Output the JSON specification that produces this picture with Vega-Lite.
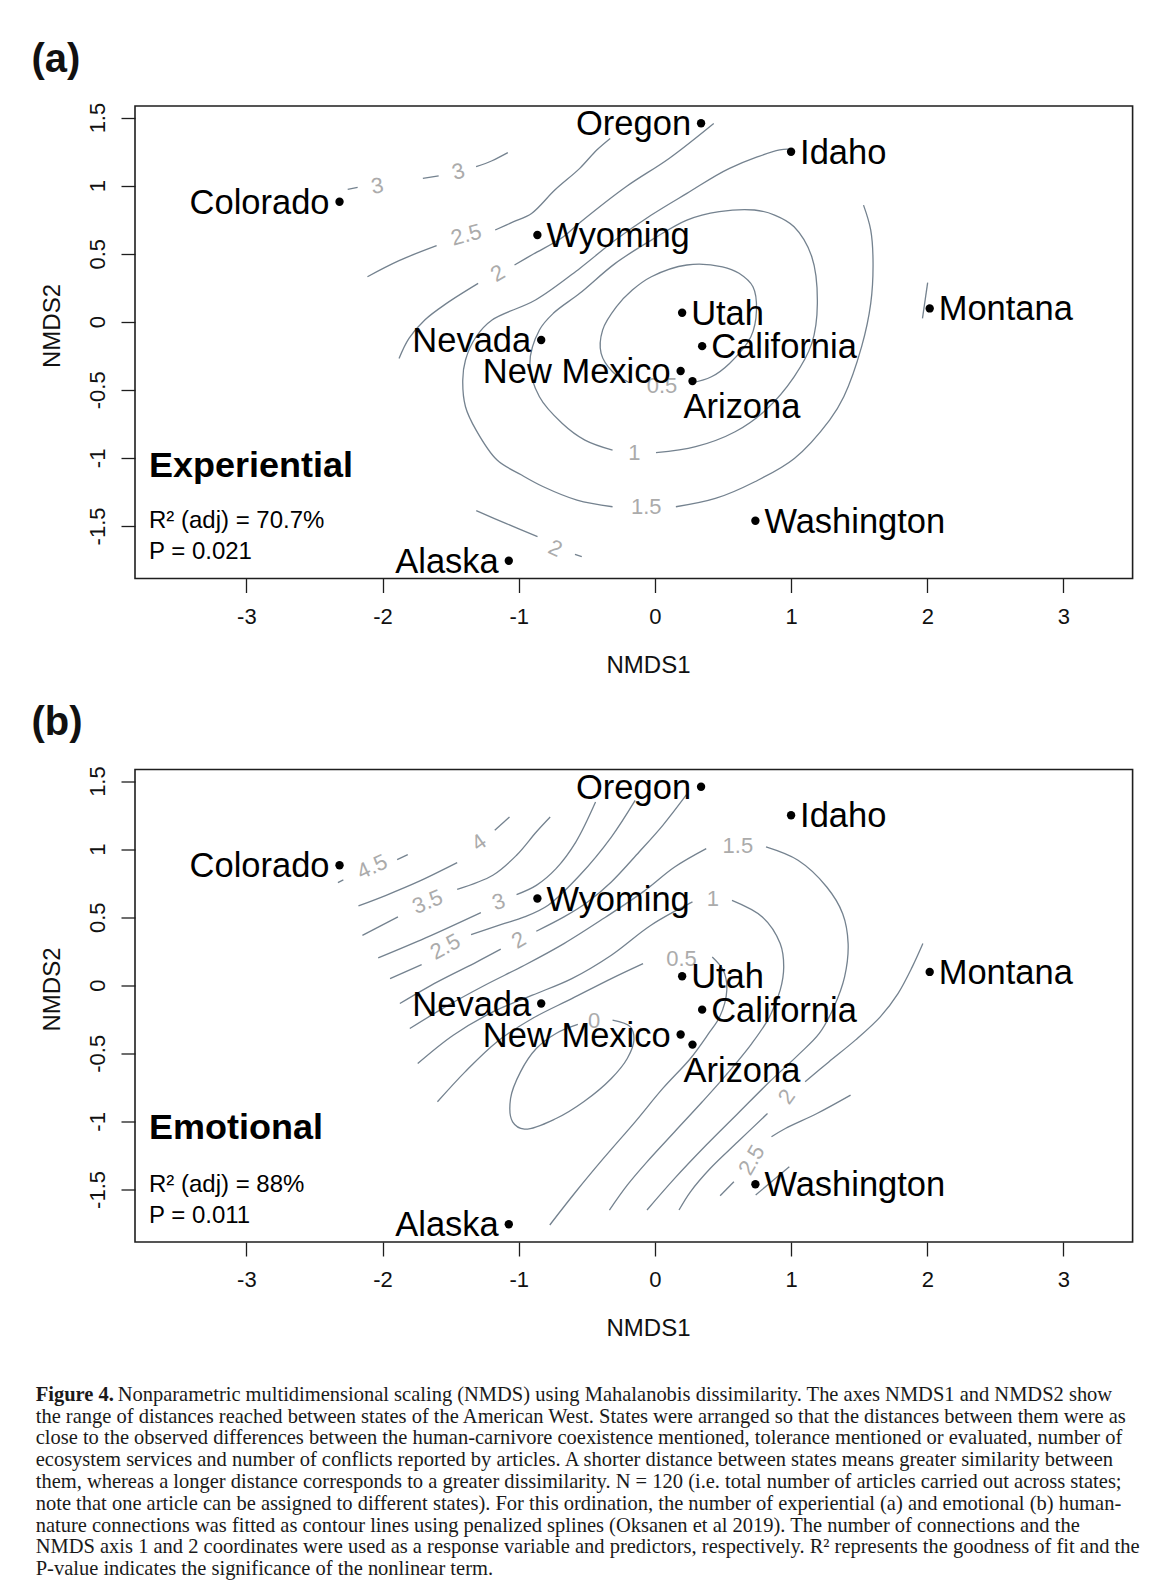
{
  "$schema": "https://vega.github.io/schema/vega-lite/v6.json",
  "background": "white",
  "padding": {"left": 30, "top": 38, "right": 5, "bottom": 5},
  "spacing": 22.5,
  "config": {
    "font": "Liberation Sans",
    "view": {"stroke": "#1e1e1e", "strokeWidth": 1.6},
    "axis": {
      "grid": false, "domain": false, "ticks": true, "tickSize": 14, "tickWidth": 1.3, "tickColor": "#1e1e1e",
      "labelFont": "Liberation Sans", "labelFontSize": 22, "labelColor": "#111111",
      "titleFont": "Liberation Sans", "titleFontSize": 24, "titleFontWeight": "normal", "titleColor": "#111111"
    }
  },
  "title": {
    "text": "Figure 4.",
    "subtitle": [
      "\u200b\u00a0\u00a0\u00a0\u00a0\u00a0\u00a0\u00a0\u00a0\u00a0\u00a0\u00a0\u00a0\u00a0\u00a0\u00a0\u00a0Nonparametric multidimensional scaling (NMDS) using Mahalanobis dissimilarity. The axes NMDS1 and NMDS2 show",
      "the range of distances reached between states of the American West. States were arranged so that the distances between them were as",
      "close to the observed differences between the human-carnivore coexistence mentioned, tolerance mentioned or evaluated, number of",
      "ecosystem services and number of conflicts reported by articles. A shorter distance between states means greater similarity between",
      "them, whereas a longer distance corresponds to a greater dissimilarity. N = 120 (i.e. total number of articles carried out across states;",
      "note that one article can be assigned to different states). For this ordination, the number of experiential (a) and emotional (b) human-",
      "nature connections was fitted as contour lines using penalized splines (Oksanen et al 2019). The number of connections and the",
      "NMDS axis 1 and 2 coordinates were used as a response variable and predictors, respectively. R² represents the goodness of fit and the",
      "P-value indicates the significance of the nonlinear term."
    ],
    "orient": "bottom", "anchor": "start", "frame": "bounds", "align": "left",
    "font": "Liberation Serif", "fontSize": 20.5, "fontWeight": "bold", "color": "#1a1a1a",
    "subtitleFont": "Liberation Serif", "subtitleFontSize": 20.5, "subtitleFontWeight": "normal", "subtitleColor": "#1a1a1a",
    "subtitleLineHeight": 21.8, "subtitlePadding": -20.5, "offset": 43, "dx": 5
  },
  "datasets": {
    "states": [
      {"state": "Colorado", "x": -2.316, "y": 0.882, "pos": "left"},
      {"state": "Oregon", "x": 0.339, "y": 1.458, "pos": "left"},
      {"state": "Idaho", "x": 1.0, "y": 1.249, "pos": "right"},
      {"state": "Wyoming", "x": -0.863, "y": 0.637, "pos": "right"},
      {"state": "Montana", "x": 2.018, "y": 0.098, "pos": "right"},
      {"state": "Utah", "x": 0.2, "y": 0.066, "pos": "right"},
      {"state": "California", "x": 0.347, "y": -0.179, "pos": "right"},
      {"state": "Nevada", "x": -0.835, "y": -0.134, "pos": "left"},
      {"state": "New Mexico", "x": 0.189, "y": -0.362, "pos": "left"},
      {"state": "Arizona", "x": 0.276, "y": -0.436, "pos": "below"},
      {"state": "Washington", "x": 0.738, "y": -1.462, "pos": "right"},
      {"state": "Alaska", "x": -1.073, "y": -1.756, "pos": "left"}
    ],
    "notes_a": [
      {"kind": "heading", "text": "Experiential", "x": -3.715, "y": -1.139},
      {"kind": "stat", "text": "R² (adj) = 70.7%", "x": -3.715, "y": -1.518},
      {"kind": "stat", "text": "P = 0.021", "x": -3.715, "y": -1.746}
    ],
    "notes_b": [
      {"kind": "heading", "text": "Emotional", "x": -3.715, "y": -1.126},
      {"kind": "stat", "text": "R² (adj) = 88%", "x": -3.715, "y": -1.518},
      {"kind": "stat", "text": "P = 0.011", "x": -3.715, "y": -1.745}
    ],
    "clab_a": [
      {"level": "3", "x": -2.038, "y": 0.997, "angle": -10},
      {"level": "3", "x": -1.443, "y": 1.102, "angle": -15},
      {"level": "2.5", "x": -1.385, "y": 0.637, "angle": -15},
      {"level": "2", "x": -1.153, "y": 0.355, "angle": -30},
      {"level": "2", "x": -0.732, "y": -1.665, "angle": 25},
      {"level": "1.5", "x": -0.064, "y": -1.359, "angle": 0},
      {"level": "1", "x": -0.151, "y": -0.967, "angle": 0},
      {"level": "0.5", "x": 0.052, "y": -0.472, "angle": 0}
    ],
    "clab_b": [
      {"level": "4.5", "x": -2.076, "y": 0.869, "angle": -25},
      {"level": "4", "x": -1.292, "y": 1.048, "angle": -35},
      {"level": "3.5", "x": -1.669, "y": 0.612, "angle": -22},
      {"level": "3", "x": -1.147, "y": 0.612, "angle": -18},
      {"level": "2.5", "x": -1.539, "y": 0.282, "angle": -28},
      {"level": "2", "x": -0.999, "y": 0.331, "angle": -30},
      {"level": "1.5", "x": 0.609, "y": 1.023, "angle": 0},
      {"level": "1", "x": 0.426, "y": 0.637, "angle": 0},
      {"level": "0.5", "x": 0.195, "y": 0.19, "angle": 0},
      {"level": "0", "x": -0.447, "y": -0.264, "angle": 0},
      {"level": "2", "x": 0.969, "y": -0.819, "angle": -55},
      {"level": "2.5", "x": 0.711, "y": -1.284, "angle": -60}
    ],
    "cont_a": [
      {"s": "a3-1", "i": 0, "x": -2.256, "y": 0.973}, {"s": "a3-1", "i": 1, "x": -2.183, "y": 0.987},
      {"s": "a3-2", "i": 0, "x": -1.704, "y": 1.053}, {"s": "a3-2", "i": 1, "x": -1.588, "y": 1.071},
      {"s": "a3-3", "i": 0, "x": -1.313, "y": 1.139}, {"s": "a3-3", "i": 1, "x": -1.196, "y": 1.183}, {"s": "a3-3", "i": 2, "x": -1.08, "y": 1.242},
      {"s": "a25-1", "i": 0, "x": -2.111, "y": 0.331}, {"s": "a25-1", "i": 1, "x": -1.879, "y": 0.449}, {"s": "a25-1", "i": 2, "x": -1.603, "y": 0.559},
      {"s": "a25-2", "i": 0, "x": -1.173, "y": 0.674}, {"s": "a25-2", "i": 1, "x": -1.037, "y": 0.735}, {"s": "a25-2", "i": 2, "x": -0.906, "y": 0.796}, {"s": "a25-2", "i": 3, "x": -0.735, "y": 0.968}, {"s": "a25-2", "i": 4, "x": -0.552, "y": 1.127}, {"s": "a25-2", "i": 5, "x": -0.427, "y": 1.262}, {"s": "a25-2", "i": 6, "x": -0.328, "y": 1.347},
      {"s": "a2-1", "i": 0, "x": -1.879, "y": -0.269}, {"s": "a2-1", "i": 1, "x": -1.806, "y": -0.122}, {"s": "a2-1", "i": 2, "x": -1.69, "y": 0.013}, {"s": "a2-1", "i": 3, "x": -1.53, "y": 0.135}, {"s": "a2-1", "i": 4, "x": -1.298, "y": 0.282},
      {"s": "a2-2", "i": 0, "x": -1.031, "y": 0.417}, {"s": "a2-2", "i": 1, "x": -0.892, "y": 0.498}, {"s": "a2-2", "i": 2, "x": -0.688, "y": 0.613}, {"s": "a2-2", "i": 3, "x": -0.552, "y": 0.728}, {"s": "a2-2", "i": 4, "x": -0.212, "y": 0.992}, {"s": "a2-2", "i": 5, "x": 0.104, "y": 1.2}, {"s": "a2-2", "i": 6, "x": 0.432, "y": 1.457},
      {"s": "a2-3", "i": 0, "x": -1.312, "y": -1.388}, {"s": "a2-3", "i": 1, "x": -1.095, "y": -1.481}, {"s": "a2-3", "i": 2, "x": -0.862, "y": -1.579},
      {"s": "a2-4", "i": 0, "x": -0.587, "y": -1.709}, {"s": "a2-4", "i": 1, "x": -0.537, "y": -1.726},
      {"s": "a2-5", "i": 0, "x": 2.003, "y": 0.287}, {"s": "a2-5", "i": 1, "x": 1.965, "y": 0.025},
      {"s": "a15-1", "i": 0, "x": 0.995, "y": 1.267}, {"s": "a15-1", "i": 1, "x": 0.917, "y": 1.262}, {"s": "a15-1", "i": 2, "x": 0.548, "y": 1.127}, {"s": "a15-1", "i": 3, "x": 0.235, "y": 0.943}, {"s": "a15-1", "i": 4, "x": -0.026, "y": 0.784}, {"s": "a15-1", "i": 5, "x": -0.291, "y": 0.6}, {"s": "a15-1", "i": 6, "x": -0.552, "y": 0.392}, {"s": "a15-1", "i": 7, "x": -0.877, "y": 0.16}, {"s": "a15-1", "i": 8, "x": -1.196, "y": 0.013}, {"s": "a15-1", "i": 9, "x": -1.313, "y": -0.11}, {"s": "a15-1", "i": 10, "x": -1.391, "y": -0.281}, {"s": "a15-1", "i": 11, "x": -1.411, "y": -0.428}, {"s": "a15-1", "i": 12, "x": -1.391, "y": -0.624}, {"s": "a15-1", "i": 13, "x": -1.313, "y": -0.796}, {"s": "a15-1", "i": 14, "x": -1.159, "y": -1.016}, {"s": "a15-1", "i": 15, "x": -0.979, "y": -1.126}, {"s": "a15-1", "i": 16, "x": -0.819, "y": -1.212}, {"s": "a15-1", "i": 17, "x": -0.572, "y": -1.31}, {"s": "a15-1", "i": 18, "x": -0.311, "y": -1.359},
      {"s": "a15-2", "i": 0, "x": 0.154, "y": -1.359}, {"s": "a15-2", "i": 1, "x": 0.444, "y": -1.298}, {"s": "a15-2", "i": 2, "x": 0.734, "y": -1.175}, {"s": "a15-2", "i": 3, "x": 1.024, "y": -1.004}, {"s": "a15-2", "i": 4, "x": 1.283, "y": -0.722}, {"s": "a15-2", "i": 5, "x": 1.387, "y": -0.551}, {"s": "a15-2", "i": 6, "x": 1.518, "y": -0.183}, {"s": "a15-2", "i": 7, "x": 1.585, "y": 0.135}, {"s": "a15-2", "i": 8, "x": 1.602, "y": 0.429}, {"s": "a15-2", "i": 9, "x": 1.585, "y": 0.674}, {"s": "a15-2", "i": 10, "x": 1.532, "y": 0.857},
      {"s": "a1", "i": 0, "x": 0.008, "y": -0.962}, {"s": "a1", "i": 1, "x": 0.299, "y": -0.918}, {"s": "a1", "i": 2, "x": 0.589, "y": -0.808}, {"s": "a1", "i": 3, "x": 0.813, "y": -0.649}, {"s": "a1", "i": 4, "x": 1.022, "y": -0.404}, {"s": "a1", "i": 5, "x": 1.152, "y": -0.159}, {"s": "a1", "i": 6, "x": 1.193, "y": 0.135}, {"s": "a1", "i": 7, "x": 1.152, "y": 0.478}, {"s": "a1", "i": 8, "x": 1.022, "y": 0.698}, {"s": "a1", "i": 9, "x": 0.879, "y": 0.784}, {"s": "a1", "i": 10, "x": 0.731, "y": 0.821}, {"s": "a1", "i": 11, "x": 0.473, "y": 0.809}, {"s": "a1", "i": 12, "x": 0.235, "y": 0.747}, {"s": "a1", "i": 13, "x": -0.026, "y": 0.6}, {"s": "a1", "i": 14, "x": -0.291, "y": 0.429}, {"s": "a1", "i": 15, "x": -0.552, "y": 0.209}, {"s": "a1", "i": 16, "x": -0.746, "y": 0.062}, {"s": "a1", "i": 17, "x": -0.848, "y": -0.061}, {"s": "a1", "i": 18, "x": -0.918, "y": -0.306}, {"s": "a1", "i": 19, "x": -0.848, "y": -0.551}, {"s": "a1", "i": 20, "x": -0.68, "y": -0.747}, {"s": "a1", "i": 21, "x": -0.514, "y": -0.869}, {"s": "a1", "i": 22, "x": -0.311, "y": -0.943},
      {"s": "a05", "i": 0, "x": 0.255, "y": -0.453}, {"s": "a05", "i": 1, "x": 0.415, "y": -0.404}, {"s": "a05", "i": 2, "x": 0.548, "y": -0.306}, {"s": "a05", "i": 3, "x": 0.705, "y": -0.11}, {"s": "a05", "i": 4, "x": 0.746, "y": 0.086}, {"s": "a05", "i": 5, "x": 0.72, "y": 0.257}, {"s": "a05", "i": 6, "x": 0.618, "y": 0.356}, {"s": "a05", "i": 7, "x": 0.496, "y": 0.404}, {"s": "a05", "i": 8, "x": 0.235, "y": 0.417}, {"s": "a05", "i": 9, "x": -0.026, "y": 0.331}, {"s": "a05", "i": 10, "x": -0.166, "y": 0.233}, {"s": "a05", "i": 11, "x": -0.282, "y": 0.111}, {"s": "a05", "i": 12, "x": -0.384, "y": -0.061}, {"s": "a05", "i": 13, "x": -0.395, "y": -0.232}, {"s": "a05", "i": 14, "x": -0.311, "y": -0.367}, {"s": "a05", "i": 15, "x": -0.186, "y": -0.448}
    ],
    "cont_b": [
      {"s": "b45-1", "i": 0, "x": -2.328, "y": 0.754}, {"s": "b45-1", "i": 1, "x": -2.288, "y": 0.774},
      {"s": "b45-2", "i": 0, "x": -1.893, "y": 0.923}, {"s": "b45-2", "i": 1, "x": -1.815, "y": 0.96},
      {"s": "b4-1", "i": 0, "x": -2.177, "y": 0.583}, {"s": "b4-1", "i": 1, "x": -1.974, "y": 0.661}, {"s": "b4-1", "i": 2, "x": -1.742, "y": 0.759}, {"s": "b4-1", "i": 3, "x": -1.452, "y": 0.901},
      {"s": "b4-2", "i": 0, "x": -1.176, "y": 1.138}, {"s": "b4-2", "i": 1, "x": -1.068, "y": 1.236},
      {"s": "b35-1", "i": 0, "x": -2.148, "y": 0.367}, {"s": "b35-1", "i": 1, "x": -1.887, "y": 0.502},
      {"s": "b35-2", "i": 0, "x": -1.452, "y": 0.705}, {"s": "b35-2", "i": 1, "x": -1.19, "y": 0.808}, {"s": "b35-2", "i": 2, "x": -1.016, "y": 0.955}, {"s": "b35-2", "i": 3, "x": -0.871, "y": 1.126}, {"s": "b35-2", "i": 4, "x": -0.769, "y": 1.236},
      {"s": "b3-1", "i": 0, "x": -2.032, "y": 0.201}, {"s": "b3-1", "i": 1, "x": -1.684, "y": 0.348}, {"s": "b3-1", "i": 2, "x": -1.278, "y": 0.534},
      {"s": "b3-2", "i": 0, "x": -1.016, "y": 0.666}, {"s": "b3-2", "i": 1, "x": -0.871, "y": 0.734}, {"s": "b3-2", "i": 2, "x": -0.726, "y": 0.857}, {"s": "b3-2", "i": 3, "x": -0.581, "y": 1.052}, {"s": "b3-2", "i": 4, "x": -0.436, "y": 1.346},
      {"s": "b3-3", "i": 0, "x": 0.74, "y": -1.541}, {"s": "b3-3", "i": 1, "x": 0.987, "y": -1.333},
      {"s": "b25-1", "i": 0, "x": -1.945, "y": 0.049}, {"s": "b25-1", "i": 1, "x": -1.713, "y": 0.152},
      {"s": "b25-2", "i": 0, "x": -1.35, "y": 0.372}, {"s": "b25-2", "i": 1, "x": -1.132, "y": 0.446}, {"s": "b25-2", "i": 2, "x": -0.958, "y": 0.502}, {"s": "b25-2", "i": 3, "x": -0.784, "y": 0.588}, {"s": "b25-2", "i": 4, "x": -0.552, "y": 0.808}, {"s": "b25-2", "i": 5, "x": -0.32, "y": 1.089}, {"s": "b25-2", "i": 6, "x": -0.145, "y": 1.358},
      {"s": "b25-3", "i": 0, "x": 1.437, "y": -0.807}, {"s": "b25-3", "i": 1, "x": 1.19, "y": -0.942}, {"s": "b25-3", "i": 2, "x": 0.958, "y": -1.052}, {"s": "b25-3", "i": 3, "x": 0.856, "y": -1.113},
      {"s": "b25-4", "i": 0, "x": 0.58, "y": -1.443}, {"s": "b25-4", "i": 1, "x": 0.479, "y": -1.546},
      {"s": "b2-1", "i": 0, "x": -1.873, "y": -0.134}, {"s": "b2-1", "i": 1, "x": -1.597, "y": 0.025}, {"s": "b2-1", "i": 2, "x": -1.307, "y": 0.172}, {"s": "b2-1", "i": 3, "x": -1.132, "y": 0.265},
      {"s": "b2-2", "i": 0, "x": -0.871, "y": 0.397}, {"s": "b2-2", "i": 1, "x": -0.668, "y": 0.502}, {"s": "b2-2", "i": 2, "x": -0.494, "y": 0.612}, {"s": "b2-2", "i": 3, "x": -0.32, "y": 0.759}, {"s": "b2-2", "i": 4, "x": -0.116, "y": 0.979}, {"s": "b2-2", "i": 5, "x": 0.058, "y": 1.175}, {"s": "b2-2", "i": 6, "x": 0.232, "y": 1.4},
      {"s": "b2-3", "i": 0, "x": 1.968, "y": 0.306}, {"s": "b2-3", "i": 1, "x": 1.89, "y": 0.135}, {"s": "b2-3", "i": 2, "x": 1.785, "y": -0.061}, {"s": "b2-3", "i": 3, "x": 1.655, "y": -0.232}, {"s": "b2-3", "i": 4, "x": 1.472, "y": -0.403}, {"s": "b2-3", "i": 5, "x": 1.277, "y": -0.563}, {"s": "b2-3", "i": 6, "x": 1.103, "y": -0.709},
      {"s": "b2-4", "i": 0, "x": 0.827, "y": -0.942}, {"s": "b2-4", "i": 1, "x": 0.609, "y": -1.15}, {"s": "b2-4", "i": 2, "x": 0.406, "y": -1.346}, {"s": "b2-4", "i": 3, "x": 0.261, "y": -1.517}, {"s": "b2-4", "i": 4, "x": 0.177, "y": -1.651},
      {"s": "b15-1", "i": 0, "x": -1.8, "y": -0.318}, {"s": "b15-1", "i": 1, "x": -1.539, "y": -0.159}, {"s": "b15-1", "i": 2, "x": -1.249, "y": 0.0}, {"s": "b15-1", "i": 3, "x": -0.958, "y": 0.147}, {"s": "b15-1", "i": 4, "x": -0.668, "y": 0.306}, {"s": "b15-1", "i": 5, "x": -0.378, "y": 0.49}, {"s": "b15-1", "i": 6, "x": -0.087, "y": 0.686}, {"s": "b15-1", "i": 7, "x": 0.145, "y": 0.869}, {"s": "b15-1", "i": 8, "x": 0.377, "y": 1.004},
      {"s": "b15-2", "i": 0, "x": 0.816, "y": 1.016}, {"s": "b15-2", "i": 1, "x": 1.051, "y": 0.918}, {"s": "b15-2", "i": 2, "x": 1.262, "y": 0.722}, {"s": "b15-2", "i": 3, "x": 1.379, "y": 0.526}, {"s": "b15-2", "i": 4, "x": 1.419, "y": 0.306}, {"s": "b15-2", "i": 5, "x": 1.393, "y": 0.061}, {"s": "b15-2", "i": 6, "x": 1.315, "y": -0.159}, {"s": "b15-2", "i": 7, "x": 1.207, "y": -0.354}, {"s": "b15-2", "i": 8, "x": 1.051, "y": -0.513}, {"s": "b15-2", "i": 9, "x": 0.842, "y": -0.709}, {"s": "b15-2", "i": 10, "x": 0.609, "y": -0.942}, {"s": "b15-2", "i": 11, "x": 0.377, "y": -1.174}, {"s": "b15-2", "i": 12, "x": 0.145, "y": -1.419}, {"s": "b15-2", "i": 13, "x": -0.058, "y": -1.651},
      {"s": "b1-1", "i": 0, "x": -1.742, "y": -0.575}, {"s": "b1-1", "i": 1, "x": -1.481, "y": -0.367}, {"s": "b1-1", "i": 2, "x": -1.19, "y": -0.196}, {"s": "b1-1", "i": 3, "x": -0.9, "y": -0.073}, {"s": "b1-1", "i": 4, "x": -0.61, "y": 0.049}, {"s": "b1-1", "i": 5, "x": -0.32, "y": 0.221}, {"s": "b1-1", "i": 6, "x": -0.029, "y": 0.441}, {"s": "b1-1", "i": 7, "x": 0.276, "y": 0.612},
      {"s": "b1-2", "i": 0, "x": 0.566, "y": 0.624}, {"s": "b1-2", "i": 1, "x": 0.789, "y": 0.502}, {"s": "b1-2", "i": 2, "x": 0.92, "y": 0.306}, {"s": "b1-2", "i": 3, "x": 0.946, "y": 0.135}, {"s": "b1-2", "i": 4, "x": 0.92, "y": -0.036}, {"s": "b1-2", "i": 5, "x": 0.842, "y": -0.232}, {"s": "b1-2", "i": 6, "x": 0.711, "y": -0.428}, {"s": "b1-2", "i": 7, "x": 0.522, "y": -0.66}, {"s": "b1-2", "i": 8, "x": 0.348, "y": -0.856}, {"s": "b1-2", "i": 9, "x": 0.145, "y": -1.076}, {"s": "b1-2", "i": 10, "x": -0.058, "y": -1.297}, {"s": "b1-2", "i": 11, "x": -0.203, "y": -1.468}, {"s": "b1-2", "i": 12, "x": -0.334, "y": -1.651},
      {"s": "b05-1", "i": 0, "x": -1.597, "y": -0.856}, {"s": "b05-1", "i": 1, "x": -1.394, "y": -0.636}, {"s": "b05-1", "i": 2, "x": -1.161, "y": -0.416}, {"s": "b05-1", "i": 3, "x": -0.9, "y": -0.244}, {"s": "b05-1", "i": 4, "x": -0.61, "y": -0.098}, {"s": "b05-1", "i": 5, "x": -0.32, "y": 0.049}, {"s": "b05-1", "i": 6, "x": -0.087, "y": 0.159},
      {"s": "b05-2", "i": 0, "x": 0.421, "y": 0.208}, {"s": "b05-2", "i": 1, "x": 0.502, "y": 0.11}, {"s": "b05-2", "i": 2, "x": 0.528, "y": -0.036}, {"s": "b05-2", "i": 3, "x": 0.476, "y": -0.232}, {"s": "b05-2", "i": 4, "x": 0.395, "y": -0.354}, {"s": "b05-2", "i": 5, "x": 0.261, "y": -0.538}, {"s": "b05-2", "i": 6, "x": 0.058, "y": -0.758}, {"s": "b05-2", "i": 7, "x": -0.145, "y": -1.003}, {"s": "b05-2", "i": 8, "x": -0.378, "y": -1.272}, {"s": "b05-2", "i": 9, "x": -0.581, "y": -1.517}, {"s": "b05-2", "i": 10, "x": -0.772, "y": -1.761},
      {"s": "b0", "i": 0, "x": -0.311, "y": -0.256}, {"s": "b0", "i": 1, "x": -0.18, "y": -0.306}, {"s": "b0", "i": 2, "x": -0.154, "y": -0.403}, {"s": "b0", "i": 3, "x": -0.203, "y": -0.538}, {"s": "b0", "i": 4, "x": -0.32, "y": -0.685}, {"s": "b0", "i": 5, "x": -0.523, "y": -0.856}, {"s": "b0", "i": 6, "x": -0.726, "y": -0.979}, {"s": "b0", "i": 7, "x": -0.958, "y": -1.057}, {"s": "b0", "i": 8, "x": -1.045, "y": -1.003}, {"s": "b0", "i": 9, "x": -1.06, "y": -0.832}, {"s": "b0", "i": 10, "x": -0.987, "y": -0.636}, {"s": "b0", "i": 11, "x": -0.871, "y": -0.465}, {"s": "b0", "i": 12, "x": -0.726, "y": -0.354}, {"s": "b0", "i": 13, "x": -0.566, "y": -0.288}
    ]
  },
  "vconcat": [
    {
      "width": 997.6,
      "height": 472.5,
      "title": {"text": "(a)", "anchor": "start", "frame": "group", "orient": "top", "font": "Liberation Sans", "fontSize": 40, "fontWeight": "bold", "color": "#111111", "baseline": "alphabetic", "offset": -9.5, "dx": -103.5},
      "encoding": {
        "x": {"field": "x", "type": "quantitative", "scale": {"domain": [-3.818, 3.508], "nice": false, "zero": false},
              "axis": {"title": "NMDS1", "values": [-3, -2, -1, 0, 1, 2, 3], "labelExpr": "replace(format(datum.value, '~g'), '\u2212', '-')", "labelBaseline": "alphabetic", "labelPadding": 31, "labelFlush": false, "labelOverlap": false, "titleX": 513, "titleY": 94, "titleAlign": "center", "titleBaseline": "alphabetic"}},
        "y": {"field": "y", "type": "quantitative", "scale": {"domain": [-1.886, 1.585], "nice": false, "zero": false},
              "axis": {"title": "NMDS2", "values": [-1.5, -1, -0.5, 0, 0.5, 1, 1.5], "labelExpr": "replace(format(datum.value, '~g'), '\u2212', '-')", "labelAngle": -90, "labelAlign": "center", "labelBaseline": "alphabetic", "labelPadding": 16, "labelFlush": false, "labelOverlap": false, "titleX": -75, "titleY": 219.5, "titleAngle": 270, "titleAlign": "center", "titleBaseline": "alphabetic"}}
      },
      "layer": [
        {"data": {"name": "cont_a"}, "mark": {"type": "line", "color": "#74828f", "strokeWidth": 1.3, "interpolate": "catmull-rom"}, "encoding": {"detail": {"field": "s"}, "order": {"field": "i", "type": "quantitative"}}},
        {"data": {"name": "clab_a"}, "mark": {"type": "text", "fontSize": 22, "color": "#ababab", "align": "center", "baseline": "middle"}, "encoding": {"text": {"field": "level"}, "angle": {"field": "angle", "type": "quantitative", "scale": null}}},
        {"data": {"name": "states"}, "mark": {"type": "circle", "size": 70, "color": "black", "opacity": 1}},
        {"data": {"name": "states"}, "transform": [{"filter": "datum.pos === 'left'"}], "mark": {"type": "text", "align": "right", "baseline": "alphabetic", "dx": -10, "dy": 12, "fontSize": 34.5, "color": "black"}, "encoding": {"text": {"field": "state"}}},
        {"data": {"name": "states"}, "transform": [{"filter": "datum.pos === 'right'"}], "mark": {"type": "text", "align": "left", "baseline": "alphabetic", "dx": 9, "dy": 12, "fontSize": 34.5, "color": "black"}, "encoding": {"text": {"field": "state"}}},
        {"data": {"name": "states"}, "transform": [{"filter": "datum.pos === 'below'"}], "mark": {"type": "text", "align": "left", "baseline": "alphabetic", "dx": -9, "dy": 37, "fontSize": 34.5, "color": "black"}, "encoding": {"text": {"field": "state"}}},
        {"data": {"name": "notes_a"}, "transform": [{"filter": "datum.kind === 'heading'"}], "mark": {"type": "text", "align": "left", "baseline": "alphabetic", "fontSize": 36, "fontWeight": "bold", "color": "black"}, "encoding": {"text": {"field": "text"}}},
        {"data": {"name": "notes_a"}, "transform": [{"filter": "datum.kind === 'stat'"}], "mark": {"type": "text", "align": "left", "baseline": "alphabetic", "fontSize": 24, "color": "black"}, "encoding": {"text": {"field": "text"}}}
      ]
    },
    {
      "width": 997.6,
      "height": 472.5,
      "title": {"text": "(b)", "anchor": "start", "frame": "group", "orient": "top", "font": "Liberation Sans", "fontSize": 40, "fontWeight": "bold", "color": "#111111", "baseline": "alphabetic", "offset": -9.5, "dx": -103.5},
      "encoding": {
        "x": {"field": "x", "type": "quantitative", "scale": {"domain": [-3.818, 3.508], "nice": false, "zero": false},
              "axis": {"title": "NMDS1", "values": [-3, -2, -1, 0, 1, 2, 3], "labelExpr": "replace(format(datum.value, '~g'), '\u2212', '-')", "labelBaseline": "alphabetic", "labelPadding": 31, "labelFlush": false, "labelOverlap": false, "titleX": 513, "titleY": 94, "titleAlign": "center", "titleBaseline": "alphabetic"}},
        "y": {"field": "y", "type": "quantitative", "scale": {"domain": [-1.886, 1.585], "nice": false, "zero": false},
              "axis": {"title": "NMDS2", "values": [-1.5, -1, -0.5, 0, 0.5, 1, 1.5], "labelExpr": "replace(format(datum.value, '~g'), '\u2212', '-')", "labelAngle": -90, "labelAlign": "center", "labelBaseline": "alphabetic", "labelPadding": 16, "labelFlush": false, "labelOverlap": false, "titleX": -75, "titleY": 219.5, "titleAngle": 270, "titleAlign": "center", "titleBaseline": "alphabetic"}}
      },
      "layer": [
        {"data": {"name": "cont_b"}, "mark": {"type": "line", "color": "#74828f", "strokeWidth": 1.3, "interpolate": "catmull-rom"}, "encoding": {"detail": {"field": "s"}, "order": {"field": "i", "type": "quantitative"}}},
        {"data": {"name": "clab_b"}, "mark": {"type": "text", "fontSize": 22, "color": "#ababab", "align": "center", "baseline": "middle"}, "encoding": {"text": {"field": "level"}, "angle": {"field": "angle", "type": "quantitative", "scale": null}}},
        {"data": {"name": "states"}, "mark": {"type": "circle", "size": 70, "color": "black", "opacity": 1}},
        {"data": {"name": "states"}, "transform": [{"filter": "datum.pos === 'left'"}], "mark": {"type": "text", "align": "right", "baseline": "alphabetic", "dx": -10, "dy": 12, "fontSize": 34.5, "color": "black"}, "encoding": {"text": {"field": "state"}}},
        {"data": {"name": "states"}, "transform": [{"filter": "datum.pos === 'right'"}], "mark": {"type": "text", "align": "left", "baseline": "alphabetic", "dx": 9, "dy": 12, "fontSize": 34.5, "color": "black"}, "encoding": {"text": {"field": "state"}}},
        {"data": {"name": "states"}, "transform": [{"filter": "datum.pos === 'below'"}], "mark": {"type": "text", "align": "left", "baseline": "alphabetic", "dx": -9, "dy": 37, "fontSize": 34.5, "color": "black"}, "encoding": {"text": {"field": "state"}}},
        {"data": {"name": "notes_b"}, "transform": [{"filter": "datum.kind === 'heading'"}], "mark": {"type": "text", "align": "left", "baseline": "alphabetic", "fontSize": 36, "fontWeight": "bold", "color": "black"}, "encoding": {"text": {"field": "text"}}},
        {"data": {"name": "notes_b"}, "transform": [{"filter": "datum.kind === 'stat'"}], "mark": {"type": "text", "align": "left", "baseline": "alphabetic", "fontSize": 24, "color": "black"}, "encoding": {"text": {"field": "text"}}}
      ]
    }
  ]
}
